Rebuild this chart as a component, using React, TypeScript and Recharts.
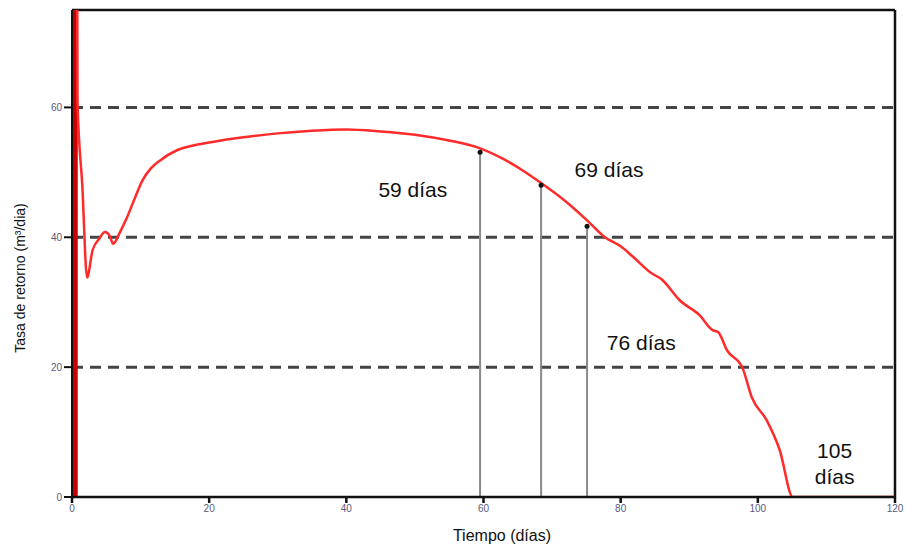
import React from 'react';
import {
  LineChart,
  Line,
  XAxis,
  YAxis,
  CartesianGrid,
  ReferenceLine,
  ReferenceDot,
} from 'recharts';

// spike at the very start of the run (goes off the top of the plot)
const spikeDays = [0.4, 0.4];
const spikeRates = [0, 200];

// return-rate curve
const days = [
  0.5, 0.8, 1.5, 2.2, 3.0, 4.0, 4.8, 5.5, 6.0, 7.0, 8.0, 9.0, 10.3, 11.5, 12.8,
  15.3, 17.5, 20, 25, 30, 35, 40, 45, 50, 55, 59.5, 63, 66, 68.2, 72, 75.1,
  77.7, 80, 82, 84.3, 86, 88.6, 91.5, 93.4, 94.2, 95.5, 97.8, 99.1, 101.3,
  103.2, 105.1, 110, 120,
];
const rates = [
  200, 61, 48, 33.8, 38, 39.8, 40.8, 40.2, 39, 40.8, 43, 45.6, 48.8, 50.6, 51.8,
  53.4, 54.1, 54.6, 55.4, 56.0, 56.4, 56.6, 56.3, 55.8, 54.9, 53.7, 52.0, 50.1,
  48.5, 45.5, 42.6, 40.0, 38.6, 36.8, 34.6, 33.5, 30.3, 28.0, 25.7, 25.4, 22.6,
  19.8, 15.4, 11.8, 7.2, 0, 0, 0,
];

// vertical markers: day position and the height where they meet the curve
const markerDays = [59.5, 68.4, 75.1];
const markerTops = [53.1, 48.0, 41.7];

// annotation texts
const noteTexts = ['59 días', '69 días', '76 días', '105', 'días'];
const noteDays = [49.7, 78.3, 83.0, 111.2, 111.2];
const noteRates = [47.4, 50.5, 23.8, 7.2, 3.2];

const xTicks = [0, 20, 40, 60, 80, 100, 120];
const yTicks = [0, 20, 40, 60];
const gridRates = [20, 40, 60];

const spike = spikeDays.map((d, i) => ({ day: d, rate: spikeRates[i] }));
const curve = days.map((d, i) => ({ day: d, rate: rates[i] }));

const font = '"Liberation Sans", Arial, sans-serif';

const App: React.FC = () => {
  return (
    <div style={{ position: 'absolute', left: 0, top: 0, width: 905, height: 546, background: '#fff' }}>
      <LineChart
        width={905}
        height={546}
        margin={{ top: 10, right: 10, bottom: 0, left: 0 }}
        style={{ fontFamily: font }}
      >
        <CartesianGrid
          vertical={false}
          horizontalValues={gridRates}
          stroke="#444"
          strokeWidth={3}
          strokeDasharray="11 7"
        />
        <XAxis
          type="number"
          dataKey="day"
          domain={[0, 120]}
          ticks={xTicks}
          allowDataOverflow
          height={49}
          stroke="#111"
          strokeWidth={2.5}
          tickSize={6}
          tick={{ fill: '#5a5a7a', fontSize: 10 }}
          label={() => (
            <text x={502} y={541} textAnchor="middle" fontSize={16} fill="#111" fontFamily={font}>
              Tiempo (días)
            </text>
          )}
        />
        <YAxis
          type="number"
          dataKey="rate"
          domain={[0, 75]}
          ticks={yTicks}
          allowDataOverflow
          width={72}
          stroke="#111"
          strokeWidth={2}
          tickSize={8}
          tick={{ fill: '#5a5a7a', fontSize: 10 }}
          label={() => (
            <text
              x={25}
              y={278}
              textAnchor="middle"
              fontSize={14}
              fill="#111"
              fontFamily={font}
              transform="rotate(-90 25 278)"
            >
              Tasa de retorno (m³/dia)
            </text>
          )}
        />
        <ReferenceLine y={75} stroke="#111" strokeWidth={2.5} />
        <ReferenceLine x={120} stroke="#111" strokeWidth={2.5} />

        {markerDays.map((d, i) => (
          <ReferenceLine
            key={`m${i}`}
            segment={[{ x: d, y: 0 }, { x: d, y: markerTops[i] }]}
            stroke="#8a8a8a"
            strokeWidth={2}
          />
        ))}
        {markerDays.map((d, i) => (
          <ReferenceDot key={`md${i}`} x={d} y={markerTops[i]} r={2.5} fill="#111" stroke="none" />
        ))}

        <Line
          data={spike}
          dataKey="rate"
          type="linear"
          stroke="#c80000"
          strokeWidth={6}
          dot={false}
          isAnimationActive={false}
        />
        <Line
          data={curve}
          dataKey="rate"
          type="monotone"
          stroke="#ff2a2a"
          strokeWidth={2.5}
          dot={false}
          isAnimationActive={false}
        />

        {noteTexts.map((t, i) => (
          <ReferenceDot
            key={`n${i}`}
            x={noteDays[i]}
            y={noteRates[i]}
            r={0}
            fill="none"
            stroke="none"
            label={{ value: t, position: 'center', fontSize: 21, fill: '#111', fontFamily: font }}
          />
        ))}
      </LineChart>
    </div>
  );
};

export default App;
